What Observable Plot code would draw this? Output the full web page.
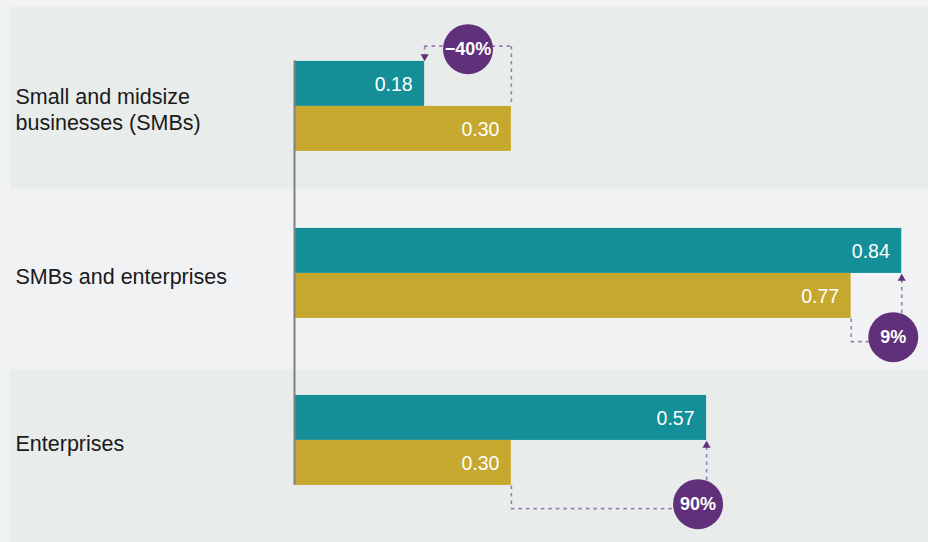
<!DOCTYPE html>
<html>
<head>
<meta charset="utf-8">
<script src="https://cdn.jsdelivr.net/npm/d3@7"></script>
<script src="https://cdn.jsdelivr.net/npm/@observablehq/plot@0.6"></script>
<style>
  html, body { margin: 0; padding: 0; background: #f1f2f4; overflow: hidden; }
  #chart svg { display: block; }
</style>
</head>
<body>
<div id="chart"></div>
<script>
// ---- Data ----
const categories = ["Small and midsize businesses (SMBs)", "SMBs and enterprises", "Enterprises"];
const categoryLabels = ["Small and midsize\nbusinesses (SMBs)", "SMBs and enterprises", "Enterprises"];
const series = ["Current", "Previous"];
const currentValues = [0.18, 0.84, 0.57];
const previousValues = [0.30, 0.77, 0.30];
const changeLabels = ["−40%", "9%", "90%"];

// ---- Derived tables ----
const bars = categories.flatMap((c, i) => [
  {category: c, series: series[0], value: currentValues[i]},
  {category: c, series: series[1], value: previousValues[i]}
]);
const changes = categories.map((c, i) => ({
  category: c, cur: currentValues[i], prev: previousValues[i], label: changeLabels[i]
}));
const ups = changes.filter(d => d.cur < d.prev);
const downs = changes.filter(d => d.cur >= d.prev);

// ---- Styling ----
const FONT = "'Liberation Sans', Arial, Helvetica, sans-serif";
const TEAL = "#148f98", GOLD = "#c6a82e", PURPLE = "#61307a", BAND = "#e8ecea";
const bw = 45.5, hb = bw / 2, upGap = 15, downGap = 23;
const dash = {stroke: "#9a7db0", strokeWidth: 1.6, strokeDasharray: "3.5,4"};
const first = () => series[0], second = () => series[1];

const chart = Plot.plot({
  width: 928,
  height: 542,
  marginTop: 21.08,
  marginBottom: 18.42,
  marginLeft: 294,
  marginRight: 0,
  style: {background: "transparent", fontFamily: FONT},
  fy: {domain: categories, axis: null, padding: 0},
  y: {domain: series, axis: null, paddingInner: 0, paddingOuter: 0.8407},
  x: {domain: [0, 0.877], axis: null},
  color: {domain: series, range: [TEAL, GOLD]},
  marks: [
    // background bands
    Plot.rect([categories[0]], {fy: d => d, fill: BAND, insetTop: -15, insetBottom: 0.5, insetLeft: -284}),
    Plot.rect([categories[2]], {fy: d => d, fill: BAND, insetTop: 13, insetBottom: -19, insetLeft: -284}),
    // bars
    Plot.barX(bars, {fy: "category", y: "series", x: "value", fill: "series"}),
    // value labels
    Plot.text(bars, {
      fy: "category", y: "series", x: "value", text: d => d.value.toFixed(2),
      textAnchor: "end", dx: -12, dy: 1, fill: "white", fontSize: 19.5, fontFamily: FONT
    }),
    // baseline axis
    Plot.ruleX([categories[0]], {fy: d => d, x: 0, insetTop: 38.25, stroke: "#808080", strokeWidth: 2}),
    Plot.ruleX([categories[1]], {fy: d => d, x: 0, stroke: "#808080", strokeWidth: 2}),
    Plot.ruleX([categories[2]], {fy: d => d, x: 0, insetBottom: 38.25, stroke: "#808080", strokeWidth: 2}),
    // category labels
    Plot.text(categories, {
      fy: d => d, text: (d, i) => categoryLabels[i], frameAnchor: "left", textAnchor: "start",
      lineAnchor: "middle", dx: -279, dy: 3, fontSize: 21.5, lineHeight: 1.17, fill: "#1a1a1a", fontFamily: FONT
    }),
    // ---- decrease annotation (connector above) ----
    Plot.ruleX(ups, {fy: "category", x: "prev", y1: first, y2: first, insetTop: -upGap, ...dash}),
    Plot.ruleY(ups, {fy: "category", y: first, x1: "cur", x2: "prev", dy: -(hb + upGap), ...dash}),
    Plot.ruleX(ups, {fy: "category", x: "cur", y1: first, y2: first, insetTop: -upGap, insetBottom: bw + 6.5, ...dash}),
    Plot.dot(ups, {fy: "category", x: "cur", y: first, symbol: "triangle", r: 3, rotate: 180, dy: -(hb + 4.67), fill: PURPLE, stroke: "none"}),
    Plot.dot(ups, {fy: "category", x: d => (d.cur + d.prev) / 2, y: first, r: 25, dy: -(hb + 12), fill: PURPLE, stroke: "none"}),
    Plot.text(ups, {fy: "category", x: d => (d.cur + d.prev) / 2, y: first, text: "label", dy: -(hb + 12), fill: "white", fontWeight: "bold", fontSize: 18, fontFamily: FONT}),
    // ---- increase annotations (connector below) ----
    Plot.ruleX(downs, {fy: "category", x: "prev", y1: second, y2: second, insetTop: bw, insetBottom: -downGap, ...dash}),
    Plot.ruleY(downs, {fy: "category", y: second, x1: "prev", x2: "cur", dy: hb + downGap, ...dash}),
    Plot.ruleX(downs, {fy: "category", x: "cur", y1: second, y2: second, insetTop: 6.5, insetBottom: -downGap, ...dash}),
    Plot.dot(downs, {fy: "category", x: "cur", y: first, symbol: "triangle", r: 3, dy: hb + 4.67, fill: PURPLE, stroke: "none"}),
    Plot.dot(downs, {fy: "category", x: "cur", y: second, r: 25, dx: -8.5, dy: hb + downGap - 4.5, fill: PURPLE, stroke: "none"}),
    Plot.text(downs, {fy: "category", x: "cur", y: second, text: "label", dx: -8.5, dy: hb + downGap - 4.5, fill: "white", fontWeight: "bold", fontSize: 18, fontFamily: FONT})
  ]
});
document.getElementById("chart").appendChild(chart);
</script>
</body>
</html>
